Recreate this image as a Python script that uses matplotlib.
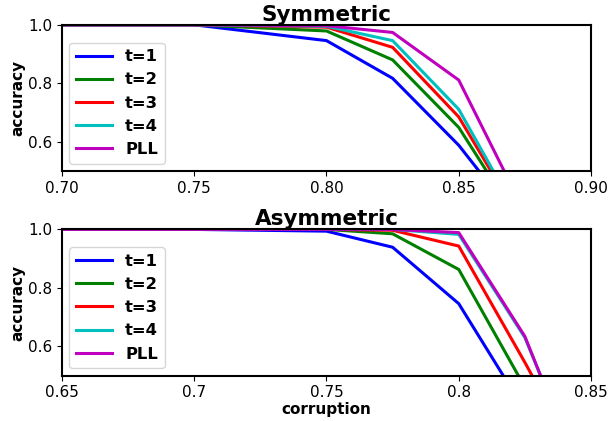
import matplotlib
matplotlib.use("Agg")
import matplotlib.pyplot as plt

# Symmetric corruption
sym_x = [0.70, 0.75, 0.80, 0.825, 0.85, 0.875]
sym_acc = {
    "t=1": [1.0, 1.0, 0.946, 0.817, 0.588, 0.30],
    "t=2": [1.0, 1.0, 0.979, 0.880, 0.649, 0.295],
    "t=3": [1.0, 1.0, 0.992, 0.923, 0.685, 0.305],
    "t=4": [1.0, 1.0, 0.995, 0.946, 0.711, 0.307],
    "PLL": [1.0, 1.0, 0.997, 0.974, 0.811, 0.358],
}

# Asymmetric corruption
asym_x = [0.65, 0.70, 0.75, 0.775, 0.80, 0.825, 0.85]
asym_acc = {
    "t=1": [1.0, 1.0, 0.994, 0.939, 0.746, 0.38, 0.10],
    "t=2": [1.0, 1.0, 1.0, 0.985, 0.863, 0.46, 0.10],
    "t=3": [1.0, 1.0, 1.0, 0.997, 0.943, 0.545, 0.13],
    "t=4": [1.0, 1.0, 1.0, 1.0, 0.983, 0.630, 0.08],
    "PLL": [1.0, 1.0, 1.0, 1.0, 0.989, 0.634, 0.07],
}

colors = ['b', 'g', 'r', 'c', 'm']

sym_ticks = [0.70, 0.75, 0.80, 0.85, 0.90]
sym_ticklabels = ['0.70', '0.75', '0.80', '0.85', '0.90']
asym_ticks = [0.65, 0.70, 0.75, 0.80, 0.85]
asym_ticklabels = ['0.65', '0.7', '0.75', '0.8', '0.85']

plt.rcParams['font.size'] = 11

fig, (ax1, ax2) = plt.subplots(2, 1, figsize=(6.08, 4.21), dpi=100)
fig.subplots_adjust(left=0.102, right=0.972, top=0.941, bottom=0.108, hspace=0.40)

for ax, xs, acc, title, ticks, labels, xlim in [
    (ax1, sym_x, sym_acc, 'Symmetric', sym_ticks, sym_ticklabels, (0.70, 0.90)),
    (ax2, asym_x, asym_acc, 'Asymmetric', asym_ticks, asym_ticklabels, (0.65, 0.85)),
]:
    for (name, vals), c in zip(acc.items(), colors):
        ax.plot(xs, vals, color=c, lw=2.2, label=name)
    ax.set_xlim(*xlim)
    ax.set_ylim(0.5, 1.0)
    ax.set_yticks([0.6, 0.8, 1.0])
    ax.set_xticks(ticks)
    ax.set_xticklabels(labels)
    ax.set_title(title, fontsize=15.5, fontweight='bold', pad=2)
    ax.set_ylabel('accuracy', fontweight='bold', labelpad=2)
    for s in ax.spines.values():
        s.set_linewidth(1.5)
    ax.legend(loc='lower left', prop={'weight': 'bold', 'size': 11.8},
              handlelength=2.2, borderaxespad=0.45)

ax2.set_xlabel('corruption', fontweight='bold', labelpad=1)

fig.savefig('out.png', dpi=100)
